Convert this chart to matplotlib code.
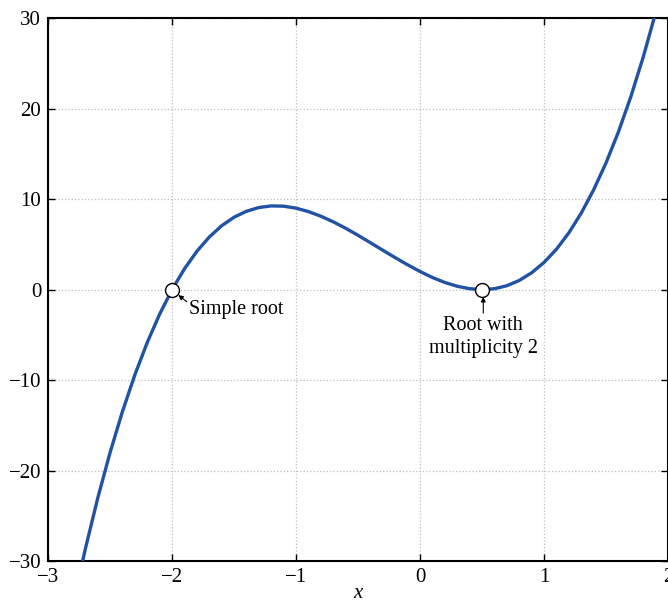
import matplotlib
matplotlib.use('Agg')
import matplotlib.pyplot as plt

plt.rcParams['font.family'] = ['Liberation Serif', 'DejaVu Serif']

# curve values
x = [-2.8, -2.7, -2.6, -2.5, -2.4, -2.3, -2.2, -2.1, -2.0, -1.9,
     -1.8, -1.7, -1.6, -1.5, -1.4, -1.3, -1.2, -1.1, -1.0, -0.9,
     -0.8, -0.7, -0.6, -0.5, -0.4, -0.3, -0.2, -0.1, 0.0, 0.1,
     0.2, 0.3, 0.4, 0.5, 0.6, 0.7, 0.8, 0.9, 1.0, 1.1,
     1.2, 1.3, 1.4, 1.5, 1.6, 1.7, 1.8, 1.9, 2.0]
y = [-34.85, -28.67, -23.06, -18.0, -13.46, -9.41, -5.83, -2.70, 0.0, 2.30,
     4.23, 5.81, 7.06, 8.0, 8.66, 9.07, 9.25, 9.22, 9.0, 8.62,
     8.11, 7.49, 6.78, 6.0, 5.18, 4.35, 3.53, 2.74, 2.0, 1.34,
     0.79, 0.37, 0.10, 0.0, 0.10, 0.43, 1.01, 1.86, 3.0, 4.46,
     6.27, 8.45, 11.02, 14.0, 17.42, 21.31, 25.69, 30.58, 36.0]

roots_x = [-2.0, 0.5]
roots_y = [0.0, 0.0]
root_labels = ['Simple root', 'Root with\nmultiplicity 2']

xticks = [-3, -2, -1, 0, 1, 2]
yticks = [-30, -20, -10, 0, 10, 20, 30]

fig = plt.figure(figsize=(6.68, 6.04), dpi=100)
ax = fig.add_axes([0.072, 0.071, 0.928, 0.899])

ax.plot(x, y, color='#2152a3', lw=2.4, zorder=3)
ax.plot(roots_x, roots_y, 'o', ms=10, mfc='white', mec='black', mew=1.0, zorder=4)

ax.annotate(root_labels[0], xy=(roots_x[0] + 0.05, roots_y[0] - 0.6),
            xytext=(-1.86, -2.2), fontsize=14.5, va='center', ha='left',
            arrowprops=dict(arrowstyle='-|>', color='black', lw=0.8,
                            mutation_scale=7, shrinkA=0, shrinkB=0,
                            relpos=(0.0, 0.8)))
ax.annotate(root_labels[1], xy=(roots_x[1] + 0.01, roots_y[1] - 0.8),
            xytext=(roots_x[1] + 0.01, -2.9), fontsize=14.5, va='top', ha='center',
            linespacing=1.3,
            arrowprops=dict(arrowstyle='-|>', color='black', lw=0.8,
                            mutation_scale=7, shrinkA=0, shrinkB=0))

ax.set_xlim(-3, 2)
ax.set_ylim(-30, 30)
ax.set_xticks(xticks)
ax.set_yticks(yticks)
ax.set_xticklabels([str(t).replace('-', '\u2212') for t in xticks])
ax.set_yticklabels([str(t).replace('-', '\u2212') for t in yticks])
ax.tick_params(direction='in', top=True, right=True, length=5, width=1,
               labelsize=15, colors='black', pad=5)
ax.grid(True, linestyle=':', color='#bdbdbd', lw=0.9)
for s in ax.spines.values():
    s.set_linewidth(1.5)
ax.set_xlabel('x', fontstyle='italic', fontsize=15, labelpad=-2)

fig.savefig('out.png', dpi=100)
